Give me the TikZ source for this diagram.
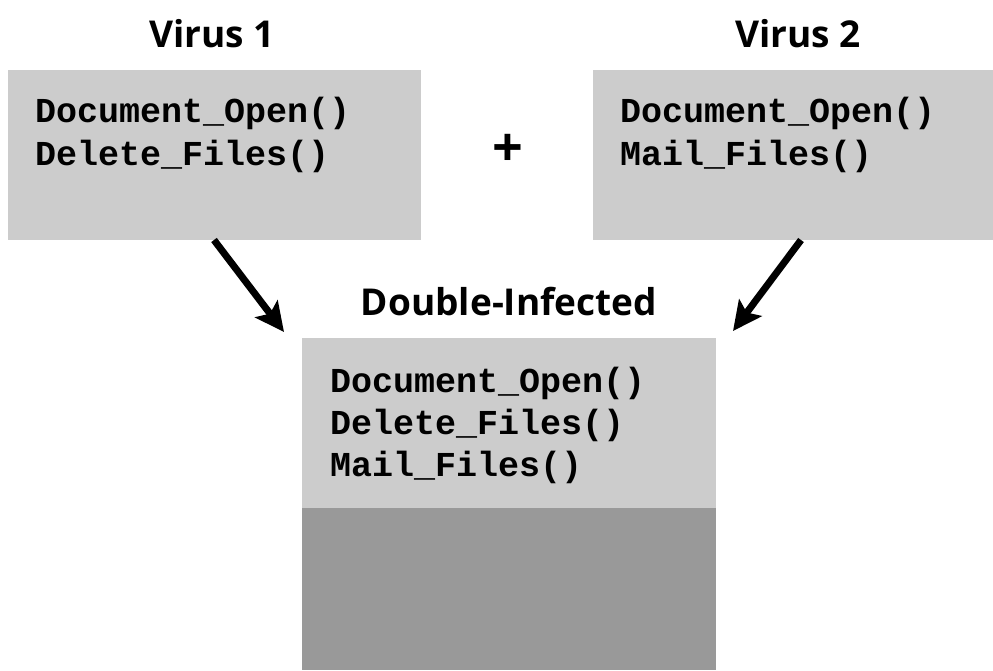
\documentclass[tikz,border=0pt]{standalone}
\usepackage{fontspec}
\setmainfont{Open Sans}
\newfontfamily\codefont{Liberation Mono}
\usetikzlibrary{arrows.meta}
\definecolor{lightbox}{HTML}{CCCCCC}
\definecolor{darkbox}{HTML}{999999}
\tikzset{
  boxfill/.style={fill=lightbox, draw=none},
  darkfill/.style={fill=darkbox, draw=none},
  codeline/.style={anchor=base west, inner sep=0pt, font=\codefont\bfseries\fontsize{35}{43}\selectfont},
  heading/.style={anchor=base, inner sep=0pt, font=\bfseries\fontsize{37}{40}\selectfont},
  bigarrow/.style={line width=7pt, -{Stealth[length=29pt,width=28pt,inset=6pt]}},
}
\begin{document}
\begin{tikzpicture}[x=1pt,y=-1pt]
\useasboundingbox (0,0) rectangle (993,670);
% boxes
\fill[boxfill] (8,70) rectangle (421,240);
\fill[boxfill] (593,70) rectangle (993,240);
\fill[boxfill] (302,338) rectangle (716,508);
\fill[darkfill] (302,508) rectangle (716,670);
\node[coordinate] (v1) at (214,240) {};
\node[coordinate] (v2) at (801,240) {};
\node[coordinate] (di1) at (284,332) {};
\node[coordinate] (di2) at (733,331) {};
% headings
\node[heading] (h1) at (212,47) {Virus 1};
\node[heading] (h2) at (798,47) {Virus 2};
\node[heading] (h3) at (509,315) {Double-Infected};
\node[anchor=center, inner sep=0pt, font=\bfseries\fontsize{54}{54}\selectfont] (plus) at (508,150) {+};
% code
\node[codeline] (a1) at (35,122) {Document\_Open()};
\node[codeline] (a2) at (35,165) {Delete\_Files()};
\node[codeline] (b1) at (620,122) {Document\_Open()};
\node[codeline] (b2) at (620,165) {Mail\_Files()};
\node[codeline] (c1) at (330,392) {Document\_Open()};
\node[codeline] (c2) at (330,434) {Delete\_Files()};
\node[codeline] (c3) at (330,476) {Mail\_Files()};
% arrows
\draw[bigarrow] (v1) -- (di1);
\draw[bigarrow] (v2) -- (di2);
\end{tikzpicture}
\end{document}
